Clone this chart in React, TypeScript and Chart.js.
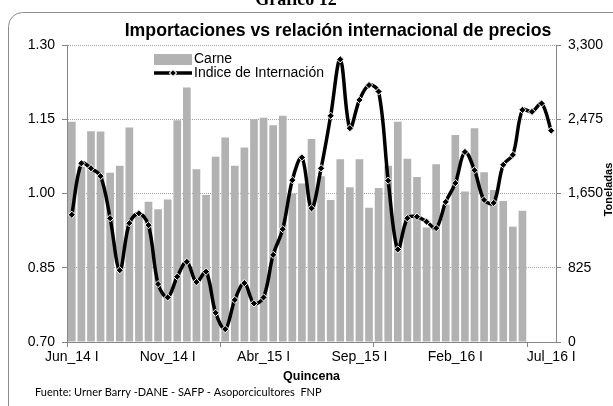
import React, { useEffect, useRef } from 'react';
import { Chart, registerables } from 'chart.js';

Chart.register(...registerables);

const categories = [
  'Jun_14 I', 'Jun_14 II', 'Jul_14 I', 'Jul_14 II', 'Ago_14 I', 'Ago_14 II', 'Sep_14 I', 'Sep_14 II',
  'Oct_14 I', 'Oct_14 II', 'Nov_14 I', 'Nov_14 II', 'Dic_14 I', 'Dic_14 II', 'Ene_15 I', 'Ene_15 II',
  'Feb_15 I', 'Feb_15 II', 'Mar_15 I', 'Mar_15 II', 'Abr_15 I', 'Abr_15 II', 'May_15 I', 'May_15 II',
  'Jun_15 I', 'Jun_15 II', 'Jul_15 I', 'Jul_15 II', 'Ago_15 I', 'Ago_15 II', 'Sep_15 I', 'Sep_15 II',
  'Oct_15 I', 'Oct_15 II', 'Nov_15 I', 'Nov_15 II', 'Dic_15 I', 'Dic_15 II', 'Ene_16 I', 'Ene_16 II',
  'Feb_16 I', 'Feb_16 II', 'Mar_16 I', 'Mar_16 II', 'Abr_16 I', 'Abr_16 II', 'May_16 I', 'May_16 II',
  'Jun_16 I', 'Jun_16 II', 'Jul_16 I',
];

// Carne (toneladas, eje derecho)
const carne = [
  2448, 1947, 2343, 2338, 1881, 1958, 2382, 1403, 1557, 1474,
  1584, 2464, 2827, 1920, 1634, 2057, 2272, 1958, 2162, 2475,
  2492, 2409, 2514, 1650, 1760, 2255, 1843, 1579, 2030, 1719,
  2030, 1491, 1711, 1958, 2448, 2035, 1832, 1271, 1975, 1524,
  2299, 1672, 2376, 1887, 1689, 1568, 1282, 1458, null, null,
  null,
];

// Indice de Internación (eje izquierdo)
const indice = [
  0.957, 1.061, 1.051, 1.035, 0.950, 0.845, 0.940, 0.960, 0.936, 0.817,
  0.790, 0.832, 0.862, 0.821, 0.842, 0.759, 0.726, 0.785, 0.819, 0.778,
  0.790, 0.876, 0.928, 1.027, 1.073, 0.970, 1.051, 1.157, 1.271, 1.132,
  1.189, 1.219, 1.206, 1.026, 0.887, 0.950, 0.953, 0.943, 0.930, 0.983,
  1.021, 1.084, 1.047, 0.987, 0.981, 1.058, 1.078, 1.169, 1.165, 1.182,
  1.127,
];

const leftTicks = { min: 0.7, max: 1.3, step: 0.15 };
const rightTicks = { min: 0, max: 3300, step: 825 };

const TITLE = 'Importaciones vs relación internacional de precios';
const HEADER = 'Gráfico 12';
const X_TITLE = 'Quincena';
const Y2_TITLE = 'Toneladas';
const SOURCE = 'Fuente: Urner Barry -DANE - SAFP - Asoporcicultores  FNP';
const SERIES_NAMES = ['Carne', 'Indice de Internación'];

const BAR_COLOR = '#b2b2b2';
const AXIS_COLOR = '#868686';
const GRID_COLOR = '#a0a0a0';
const SANS = '"Liberation Sans", Arial, sans-serif';

const decoPlugin = {
  id: 'deco',
  beforeDraw(chart: any) {
    const ctx = chart.ctx;
    ctx.save();
    ctx.fillStyle = '#ffffff';
    ctx.fillRect(0, 0, chart.width, chart.height);
    ctx.strokeStyle = '#8c8c8c';
    ctx.lineWidth = 1;
    ctx.beginPath();
    (ctx as any).roundRect(8.5, 12.5, 680, 410, 14);
    ctx.stroke();
    ctx.restore();
  },
  afterDraw(chart: any) {
    const ctx = chart.ctx;
    const area = chart.chartArea;
    ctx.save();
    ctx.fillStyle = '#000';
    // header
    ctx.font = 'bold 18px "Liberation Serif", "Times New Roman", serif';
    ctx.textAlign = 'center';
    ctx.textBaseline = 'alphabetic';
    ctx.fillText(HEADER, 296, 5);
    // title
    ctx.font = 'bold 17.7px ' + SANS;
    ctx.textBaseline = 'middle';
    ctx.fillText(TITLE, 338, 31);
    // x title
    ctx.font = 'bold 12.5px ' + SANS;
    ctx.fillText(X_TITLE, (area.left + area.right) / 2, 377);
    // right axis title (rotated)
    ctx.save();
    ctx.translate(609, (area.top + area.bottom) / 2 - 4);
    ctx.rotate(-Math.PI / 2);
    ctx.font = 'bold 11px ' + SANS;
    ctx.fillText(Y2_TITLE, 0, 0);
    ctx.restore();
    // source
    ctx.font = '11px Lato, "Open Sans", sans-serif';
    ctx.textAlign = 'left';
    ctx.fillText(SOURCE, 35, 392);
    // legend
    const lx = area.left + 87;
    const ly1 = area.top + 14.5;
    const ly2 = area.top + 28;
    ctx.fillStyle = BAR_COLOR;
    ctx.fillRect(lx, ly1 - 5.5, 38, 11);
    ctx.strokeStyle = '#000';
    ctx.lineWidth = 3.5;
    ctx.beginPath();
    ctx.moveTo(lx, ly2);
    ctx.lineTo(lx + 38, ly2);
    ctx.stroke();
    ctx.save();
    ctx.translate(lx + 19, ly2);
    ctx.rotate(Math.PI / 4);
    ctx.fillStyle = '#000';
    ctx.strokeStyle = '#fff';
    ctx.lineWidth = 1;
    ctx.fillRect(-2.5, -2.5, 5, 5);
    ctx.strokeRect(-2.5, -2.5, 5, 5);
    ctx.restore();
    ctx.fillStyle = '#000';
    ctx.font = '14px ' + SANS;
    ctx.textAlign = 'left';
    ctx.textBaseline = 'middle';
    ctx.fillText(SERIES_NAMES[0], lx + 40, ly1);
    ctx.fillText(SERIES_NAMES[1], lx + 40, ly2);
    ctx.restore();
  },
};

export default function App() {
  const ref = useRef<HTMLCanvasElement | null>(null);
  useEffect(() => {
    if (!ref.current) return;
    const chart = new Chart(ref.current, {
      type: 'bar',
      data: {
        labels: categories,
        datasets: [
          {
            type: 'line',
            label: SERIES_NAMES[1],
            data: indice,
            yAxisID: 'y',
            borderColor: '#000',
            borderWidth: 3.5,
            tension: 0.35,
            pointStyle: 'rectRot',
            pointRadius: 3.6,
            pointBackgroundColor: '#000',
            pointBorderColor: '#fff',
            pointBorderWidth: 1,
            order: 0,
          } as any,
          {
            type: 'bar',
            label: SERIES_NAMES[0],
            data: carne,
            yAxisID: 'y1',
            backgroundColor: BAR_COLOR,
            borderWidth: 0,
            categoryPercentage: 1,
            barPercentage: 0.8,
            order: 1,
          },
        ],
      },
      options: {
        responsive: false,
        maintainAspectRatio: false,
        animation: false,
        devicePixelRatio: 1,
        layout: { padding: { top: 45, left: 0, right: 0, bottom: 0 } },
        plugins: {
          legend: { display: false },
          title: { display: false },
          tooltip: { enabled: false },
        },
        scales: {
          x: {
            type: 'category',
            offset: true,
            afterFit: (s: any) => { s.height = 64; },
            grid: {
              display: true,
              drawOnChartArea: false,
              drawTicks: true,
              tickLength: 5,
              offset: true,
              tickColor: (c: any) => (c.index % 16 === 0 ? AXIS_COLOR : 'rgba(0,0,0,0)'),
            },
            border: { display: true, color: AXIS_COLOR, width: 1 },
            ticks: {
              autoSkip: false,
              maxRotation: 0,
              minRotation: 0,
              padding: 2,
              color: '#000',
              font: { family: SANS, size: 14 },
              callback: (_v: any, i: number) => (i % 10 === 0 ? categories[i] : ''),
            },
          },
          y: {
            position: 'left',
            min: leftTicks.min,
            max: leftTicks.max,
            afterFit: (s: any) => { s.width = 67; },
            grid: {
              color: GRID_COLOR,
              lineWidth: 1,
              drawTicks: true,
              tickLength: 5,
              tickColor: AXIS_COLOR,
            },
            border: { display: true, color: AXIS_COLOR, width: 1, dash: [1, 1] },
            ticks: {
              stepSize: leftTicks.step,
              padding: 7,
              color: '#000',
              font: { family: SANS, size: 14 },
              callback: (v: any) => Number(v).toFixed(2),
            },
          },
          y1: {
            position: 'right',
            min: rightTicks.min,
            max: rightTicks.max,
            afterFit: (s: any) => { s.width = 57; },
            grid: {
              drawOnChartArea: false,
              drawTicks: true,
              tickLength: 5,
              tickColor: AXIS_COLOR,
            },
            border: { display: true, color: AXIS_COLOR, width: 1 },
            ticks: {
              stepSize: rightTicks.step,
              padding: 7,
              color: '#000',
              font: { family: SANS, size: 14 },
              callback: (v: any) => Number(v).toLocaleString('en-US'),
            },
          },
        },
      },
      plugins: [decoPlugin],
    });
    return () => chart.destroy();
  }, []);
  return (
    <div style={{ position: 'fixed', left: 0, top: 0, width: 613, height: 406 }}>
      <canvas ref={ref} width={613} height={406} style={{ width: 613, height: 406, display: 'block' }} />
    </div>
  );
}
